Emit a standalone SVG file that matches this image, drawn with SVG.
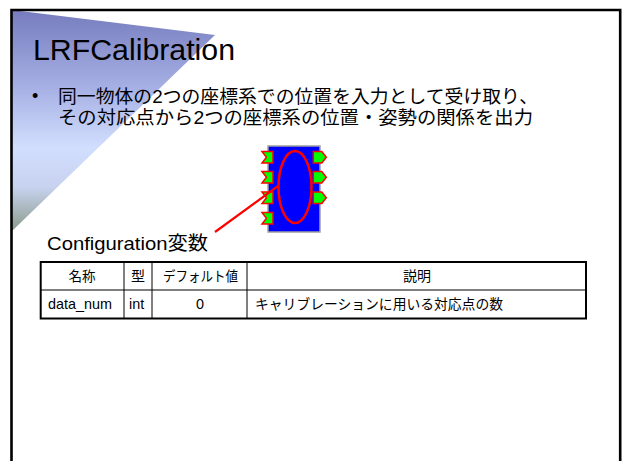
<svg xmlns="http://www.w3.org/2000/svg" width="622" height="461" viewBox="0 0 622 461">
<defs>
<linearGradient id="tri" gradientUnits="userSpaceOnUse" x1="0" y1="10" x2="0" y2="232">
<stop offset="0" stop-color="#767cbe"/>
<stop offset="0.35" stop-color="#a6b0e4"/>
<stop offset="0.62" stop-color="#d2defe"/>
<stop offset="0.8" stop-color="#c6d2ee"/>
<stop offset="1" stop-color="#8a9a88"/>
</linearGradient>
<polygon id="inport" points="0,0 11,0 11,11.5 0,11.5 4.5,5.75"/>
<polygon id="outport" points="0,0 8.5,0 13,5.75 8.5,11.5 0,11.5"/>
</defs>
<style>
.t{font-family:"Liberation Sans","Noto Sans CJK JP",sans-serif;fill:#000}
.port{fill:#00ff00;stroke:#ff0000;stroke-width:1.5;stroke-linejoin:miter}
.cell{fill:none;stroke:#000;stroke-width:1}
</style>
<rect width="622" height="461" fill="#fff"/>
<polygon points="12,10 215,35 12,231" fill="url(#tri)"/>
<path d="M11.5,470 V10 H620.2 V470" fill="none" stroke="#000" stroke-width="2.6"/>
<g id="title"><text class="t" x="33" y="60" font-size="30" textLength="202" lengthAdjust="spacingAndGlyphs">LRFCalibration</text></g>
<g id="bullet">
<text class="t" x="32" y="102" font-size="18">•</text>
<text class="t" x="58" y="103" font-size="18.5" textLength="480" lengthAdjust="spacingAndGlyphs">同一物体の2つの座標系での位置を入力として受け取り、</text>
<text class="t" x="58" y="124" font-size="18.5" textLength="475" lengthAdjust="spacingAndGlyphs">その対応点から2つの座標系の位置・姿勢の関係を出力</text>
</g>
<g id="component">
<rect x="268" y="146" width="52" height="86" fill="#0000ff" stroke="#a0a0a0" stroke-width="1.5"/>
<ellipse cx="295" cy="187" rx="16.5" ry="36" fill="none" stroke="#ff0000" stroke-width="2.5"/>
<use href="#inport" class="port" x="262" y="151.5"/>
<use href="#inport" class="port" x="262" y="171.5"/>
<use href="#inport" class="port" x="262" y="192"/>
<use href="#inport" class="port" x="262" y="212.5"/>
<use href="#outport" class="port" x="313.3" y="151.5"/>
<use href="#outport" class="port" x="313.3" y="171.5"/>
<use href="#outport" class="port" x="313.3" y="192"/>
</g>
<g id="connectors">
<line x1="215" y1="232" x2="278" y2="186" stroke="#ff0000" stroke-width="2.2"/>
</g>
<g id="config-label"><text class="t" x="47" y="250" font-size="19" textLength="161" lengthAdjust="spacingAndGlyphs">Configuration変数</text></g>
<g id="table">
<line class="cell" x1="40" y1="290" x2="586" y2="290"/>
<line class="cell" x1="124" y1="262" x2="124" y2="318"/>
<line class="cell" x1="152" y1="262" x2="152" y2="318"/>
<line class="cell" x1="247" y1="262" x2="247" y2="318"/>
<rect x="40.7" y="262" width="545.3" height="56.5" fill="none" stroke="#000" stroke-width="2"/>
<text class="t" x="82" y="281" font-size="14" text-anchor="middle" textLength="27" lengthAdjust="spacingAndGlyphs">名称</text>
<text class="t" x="138" y="281" font-size="14" text-anchor="middle">型</text>
<text class="t" x="200.5" y="281" font-size="14" text-anchor="middle" textLength="75" lengthAdjust="spacingAndGlyphs">デフォルト値</text>
<text class="t" x="417" y="281" font-size="14" text-anchor="middle">説明</text>
<text class="t" x="48" y="309" font-size="14.4" textLength="64" lengthAdjust="spacingAndGlyphs">data_num</text>
<text class="t" x="129" y="309" font-size="14.4">int</text>
<text class="t" x="200" y="309" font-size="14.4" text-anchor="middle">0</text>
<text class="t" x="255" y="309" font-size="14" textLength="248" lengthAdjust="spacingAndGlyphs">キャリブレーションに用いる対応点の数</text>
</g>
</svg>
